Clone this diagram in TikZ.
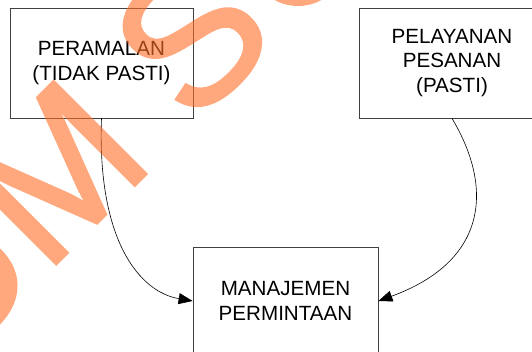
\documentclass[tikz,border=0pt]{standalone}
\usepackage{fontspec}
\setmainfont{Liberation Sans}
\newfontfamily\wmfont[FakeBold=1.5]{Liberation Sans}
\usetikzlibrary{arrows.meta}
\definecolor{wmorange}{RGB}{255,110,40}

\begin{document}
\begin{tikzpicture}[x=1pt, y=-1pt,
    box/.style={draw=black!75, line width=0.8pt, align=center, inner sep=0pt,
      font=\fontsize{20.6}{24.5}\selectfont},
    arr/.style={-{Triangle[length=14pt, width=11pt]}, line width=0.6pt},
    wmark/.style={wmorange}]
  \useasboundingbox (0,0) rectangle (532,352);
  \clip (0,0) rectangle (532,352);

  \node[box, minimum width=183pt, minimum height=110pt] (ramal) at (101.5, 63) {PERAMALAN\\(TIDAK PASTI)};
  \node[box, minimum width=186pt, minimum height=110pt] (pesan) at (452.0, 63) {PELAYANAN\\PESANAN\\(PASTI)};
  \node[box, minimum width=185pt, minimum height=108pt] (manaj) at (285.5, 301) {MANAJEMEN\\PERMINTAAN};

  \draw[arr] (ramal.south) .. controls +(-4.5,122) and +(-53,-9) .. (manaj.west);
  \draw[arr] (pesan.south) .. controls +(43,72) and +(107,-39) .. (manaj.east);

  % watermark
  \begin{scope}[transparency group, opacity=0.6]
    \node[anchor=base west, inner sep=0pt, rotate=45, text=wmorange,
      font=\wmfont\fontsize{190}{190}\selectfont] (wm) at (-52, 372) {UM\kern50pt S};
    \fill[wmark] (298,-43) circle (49pt);
  \end{scope}
\end{tikzpicture}
\end{document}
